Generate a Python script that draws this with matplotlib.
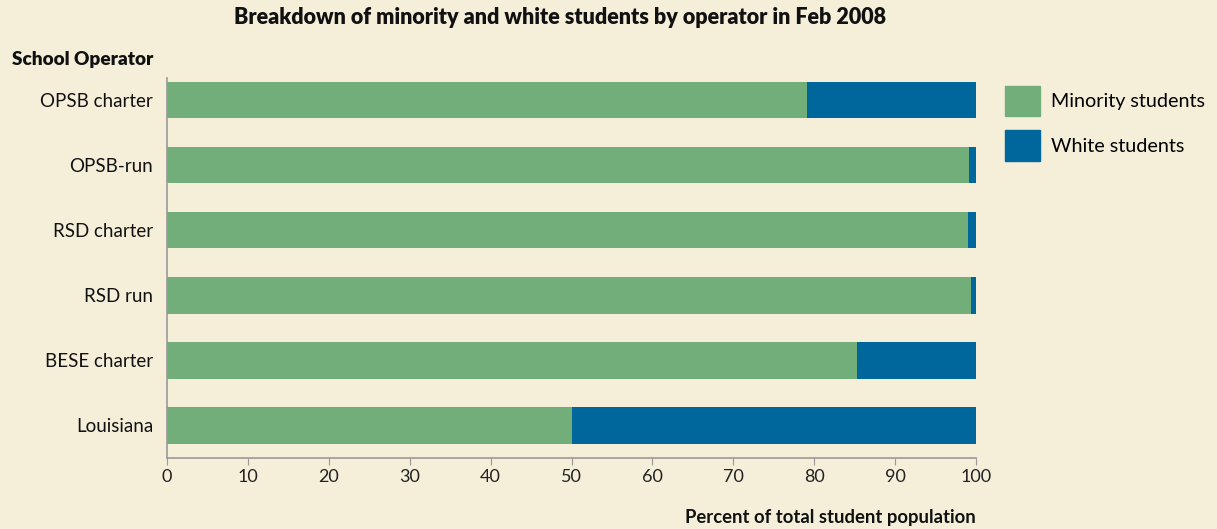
import matplotlib.pyplot as plt
from matplotlib.patches import Patch

# --- Data ---
operators = ["OPSB charter", "OPSB-run", "RSD charter", "RSD run", "BESE charter", "Louisiana"]
minority = [79.1, 99.1, 99.0, 99.4, 85.3, 50.0]
white = [100 - m for m in minority]
xticks = [0, 10, 20, 30, 40, 50, 60, 70, 80, 90, 100]

bg = "#F5EFDA"
green = "#72AE7A"
blue = "#00679C"
plt.rcParams["font.family"] = ["Lato", "DejaVu Sans"]

fig = plt.figure(figsize=(12.17, 5.29), dpi=100, facecolor=bg)
ax = fig.add_axes([167 / 1217, 1 - 458 / 529, (976 - 167) / 1217, (458 - 78) / 529])
ax.set_facecolor(bg)

y = list(range(len(operators)))
ax.barh(y, minority, height=0.56, color=green, label="Minority students")
ax.barh(y, white, left=minority, height=0.56, color=blue, label="White students")

ax.set_ylim(len(operators) - 0.5, -0.34)
ax.set_xlim(0, 100)
ax.set_yticks(y)
ax.set_yticklabels(operators, fontsize=13.5, color="#111111")
ax.set_xticks(xticks)
ax.set_xticklabels([str(t) for t in xticks], fontsize=13, color="#222222")
ax.tick_params(axis="y", length=0, pad=10)
ax.tick_params(axis="x", length=5, color="#999999", pad=3, direction="out")
ax.xaxis.set_ticks_position("bottom")
for s in ["top", "right"]:
    ax.spines[s].set_visible(False)
for s in ["left", "bottom"]:
    ax.spines[s].set_color("#999999")
    ax.spines[s].set_linewidth(1.2)
ax.spines["bottom"].set_bounds(0, 100)

fig.text(560 / 1217, 1 - 18 / 529, "Breakdown of minority and white students by operator in Feb 2008",
         ha="center", va="center", fontsize=15.5, fontweight="heavy", color="#111111")
fig.text(12 / 1217, 1 - 59 / 529, "School Operator", ha="left", va="center",
         fontsize=13.7, fontweight="heavy", color="#111111")
fig.text(976 / 1217, 1 - 517 / 529, "Percent of total student population", ha="right", va="center",
         fontsize=13.3, fontweight="bold", color="#111111")

handles = [Patch(color=green), Patch(color=blue)]
fig.legend(handles, ["Minority students", "White students"], loc="upper left",
           bbox_to_anchor=(991 / 1217, 1 - 72 / 529), frameon=False, fontsize=14.2,
           handlelength=1.8, handleheight=2.0, labelspacing=0.7, handletextpad=0.55,
           borderaxespad=0.3)

fig.savefig("out.png", dpi=100, facecolor=bg)
